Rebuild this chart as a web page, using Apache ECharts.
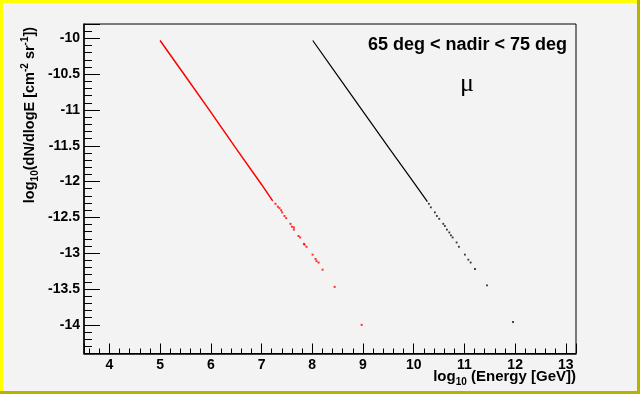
<!DOCTYPE html>
<html>
<head>
<meta charset="utf-8">
<script src="https://cdn.jsdelivr.net/npm/echarts@6/dist/echarts.min.js"></script>
<style>
html,body{margin:0;padding:0;background:#f3f3f3;}
#chart{width:640px;height:394px;}
</style>
</head>
<body>
<div id="chart"></div>
<script>
// ---- data ----
var xRange = [3.5, 13.2];
var yRange = [-14.4, -9.8];

var redLineX = [5.00, 5.50, 6.00, 6.50, 7.00, 7.22];
var redLineY = [-10.03, -10.53, -11.03, -11.54, -12.04, -12.27];
var redDotsX = [7.275, 7.322, 7.354, 7.387, 7.407, 7.453, 7.486, 7.571, 7.599, 7.638, 7.638, 7.729, 7.763, 7.836, 7.848, 7.887, 8.006, 8.065, 8.085, 8.125, 8.204, 8.441, 8.974];
var redDotsY = [-12.31, -12.35, -12.37, -12.40, -12.43, -12.48, -12.51, -12.59, -12.63, -12.64, -12.67, -12.76, -12.78, -12.87, -12.88, -12.91, -13.02, -13.08, -13.11, -13.13, -13.23, -13.47, -14.00];

var blackLineX = [8.01, 8.50, 9.00, 9.50, 10.00, 10.27];
var blackLineY = [-10.03, -10.52, -11.02, -11.52, -12.01, -12.28];
var blackDotsX = [10.299, 10.338, 10.417, 10.457, 10.504, 10.583, 10.615, 10.654, 10.702, 10.733, 10.767, 10.846, 10.891, 11.010, 11.077, 11.123, 11.208, 11.445, 11.958];
var blackDotsY = [-12.31, -12.36, -12.43, -12.48, -12.52, -12.59, -12.62, -12.67, -12.71, -12.75, -12.78, -12.85, -12.91, -13.02, -13.09, -13.13, -13.22, -13.45, -13.96];

var titleText = '65 deg < nadir < 75 deg';
var particleText = 'μ';

function pairs(xs, ys){ return xs.map(function(x,i){ return [x, ys[i]]; }); }

var FONT = '"Liberation Sans", Arial, Helvetica, sans-serif';
var rich = {
  a: {fontFamily: FONT, fontWeight: 'bold', fontSize: 15, lineHeight: 20, color:'#000'},
  s: {fontFamily: FONT, fontWeight: 'bold', fontSize: 10, lineHeight: 10, verticalAlign: 'bottom', color:'#000'},
  p: {fontFamily: FONT, fontWeight: 'bold', fontSize: 10, lineHeight: 10, verticalAlign: 'top', color:'#000'}
};
var richY = {
  a: {fontFamily: FONT, fontWeight: 'bold', fontSize: 14.5, lineHeight: 20, color:'#000'},
  s: {fontFamily: FONT, fontWeight: 'bold', fontSize: 10, lineHeight: 10, verticalAlign: 'bottom', color:'#000'},
  p: {fontFamily: FONT, fontWeight: 'bold', fontSize: 10, lineHeight: 10, verticalAlign: 'top', color:'#000'}
};

var chart = echarts.init(document.getElementById('chart'), null, {renderer: 'canvas'});
var axisCommon = {
  axisLine: {show: true, lineStyle: {color: '#000', width: 1.5}},
  splitLine: {show: false},
  axisLabel: {color: '#000', fontFamily: FONT, fontWeight: 'bold', fontSize: 14, showMinLabel: false, showMaxLabel: false},
  minorTick: {show: true, splitNumber: 5, lineStyle: {color: '#000', width: 1}},
  axisTick: {show: true, inside: true, lineStyle: {color: '#000', width: 1}}
};

chart.setOption({
  animation: false,
  backgroundColor: '#f3f3f3',
  grid: {left: 84, top: 24, width: 492, height: 329.5, show: true, borderColor: '#000', borderWidth: 1, backgroundColor: 'transparent'},
  xAxis: Object.assign({}, axisCommon, {
    type: 'value', min: xRange[0], max: xRange[1], splitNumber: 10,
    axisTick: Object.assign({}, axisCommon.axisTick, {length: 10}),
    minorTick: Object.assign({}, axisCommon.minorTick, {length: 5}),
    axisLabel: Object.assign({}, axisCommon.axisLabel, {margin: 5})
  }),
  yAxis: Object.assign({}, axisCommon, {
    type: 'value', min: yRange[0], max: yRange[1], splitNumber: 9,
    axisTick: Object.assign({}, axisCommon.axisTick, {length: 16}),
    minorTick: Object.assign({}, axisCommon.minorTick, {length: 8}),
    axisLabel: Object.assign({}, axisCommon.axisLabel, {margin: 4})
  }),
  series: [
    {type: 'line', data: pairs(redLineX, redLineY), showSymbol: false, lineStyle: {color: '#ff0000', width: 1.5}, silent: true},
    {type: 'scatter', data: pairs(redDotsX, redDotsY), symbol: 'rect', symbolSize: 2, itemStyle: {color: '#ff0000'}, silent: true},
    {type: 'line', data: pairs(blackLineX, blackLineY), showSymbol: false, lineStyle: {color: '#000000', width: 1.2}, silent: true},
    {type: 'scatter', data: pairs(blackDotsX, blackDotsY), symbol: 'rect', symbolSize: 1.8, itemStyle: {color: '#000000'}, silent: true}
  ],
  graphic: [
    {type: 'rect', shape: {x: 0, y: 0, width: 640, height: 3}, style: {fill: '#ffff00'}, silent: true},
    {type: 'rect', shape: {x: 0, y: 0, width: 3, height: 394}, style: {fill: '#ffff00'}, silent: true},
    {type: 'rect', shape: {x: 0, y: 391, width: 640, height: 3}, style: {fill: '#b3b300'}, silent: true},
    {type: 'rect', shape: {x: 637, y: 0, width: 3, height: 394}, style: {fill: '#b3b300'}, silent: true},
    {type: 'text', x: 567, y: 45, silent: true,
      style: {text: titleText, fill: '#000', font: 'bold 18px ' + FONT, textAlign: 'right', textVerticalAlign: 'middle'}},
    {type: 'text', x: 467, y: 84, silent: true,
      style: {text: particleText, fill: '#000', font: '26px "Liberation Serif", "DejaVu Serif", serif', textAlign: 'center', textVerticalAlign: 'middle'}},
    {type: 'text', x: 576, y: 377, silent: true,
      style: {text: '{a|log}{s|10}{a| (Energy [GeV])}', rich: rich, textAlign: 'right', textVerticalAlign: 'middle'}},
    {type: 'text', x: 30, y: 115, rotation: Math.PI / 2, silent: true,
      style: {text: '{a|log}{s|10}{a|(dN/dlogE [cm}{p|-2}{a| sr}{p|-1}{a|])}', rich: richY, textAlign: 'center', textVerticalAlign: 'middle'}}
  ]
});
</script>
</body>
</html>
